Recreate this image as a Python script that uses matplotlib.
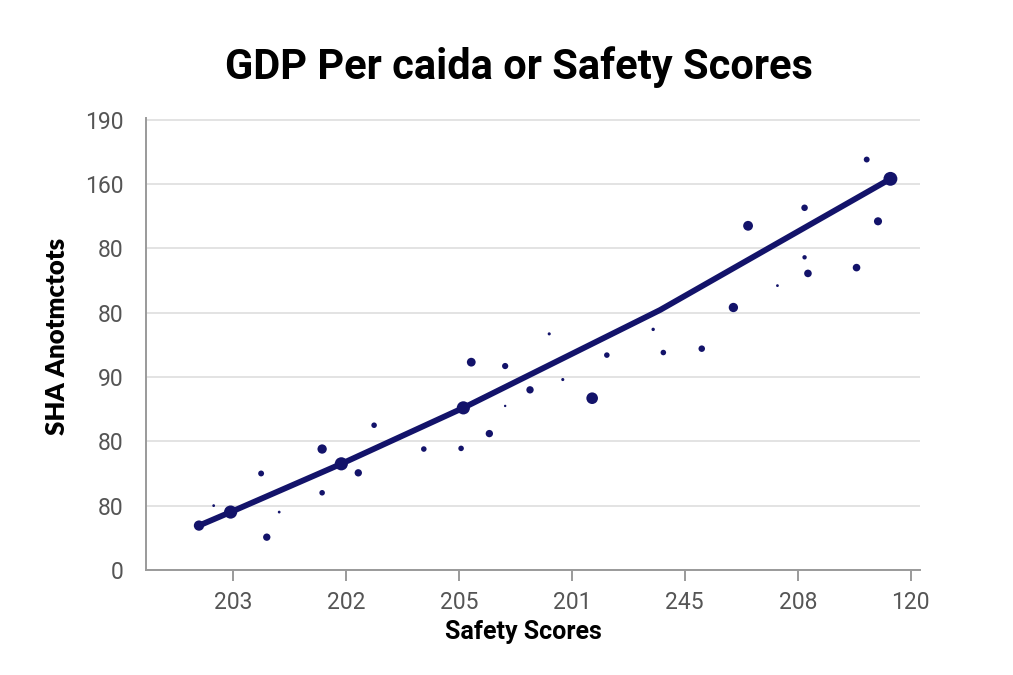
import matplotlib.pyplot as plt

# tick labels as printed on the chart (positions are just their index)
x_labels = ["203", "202", "205", "201", "245", "208", "120"]
y_labels = ["0", "80", "80", "90", "80", "80", "160", "190"]

# trend line (x, y in tick-index units); big markers on some vertices
trend_x = [0.70, 0.98, 1.96, 3.04, 4.78, 6.82]
trend_y = [0.69, 0.90, 1.65, 2.52, 4.04, 6.08]
trend_s = [55, 90, 90, 90, 0, 100]

# scattered observations and their marker sizes
pts_x = [0.83, 1.25, 1.41, 1.30, 1.79, 1.79, 2.11, 2.25, 2.69, 3.02,
         3.11, 3.27, 3.41, 3.41, 3.63, 3.80, 3.92, 4.18, 4.31, 4.72,
         4.81, 5.15, 5.43, 5.56, 5.82, 6.06, 6.06, 6.09, 6.52, 6.61,
         6.71]
pts_y = [1.00, 1.50, 0.90, 0.51, 1.88, 1.20, 1.51, 2.25, 1.88, 1.89,
         3.23, 2.12, 3.17, 2.55, 2.80, 3.67, 2.96, 2.67, 3.34, 3.74,
         3.38, 3.44, 4.08, 5.35, 4.42, 5.63, 4.86, 4.61, 4.70, 6.38,
         5.42]
pts_s = [4, 18, 4, 28, 45, 16, 28, 16, 16, 16,
         40, 28, 20, 3, 28, 5, 5, 70, 16, 6,
         16, 22, 45, 50, 4, 22, 10, 30, 30, 18,
         34]

NAVY = "#13136a"
GRID = "#e0e0e0"
TXT = "#555555"

fig = plt.figure(figsize=(10.13, 6.75), dpi=100)
ax = fig.add_axes([0.144, 0.1556, 0.764, 0.670])

ax.plot(trend_x, trend_y, color=NAVY, lw=4.2, solid_capstyle="round",
        solid_joinstyle="round", zorder=3)
ax.scatter(trend_x, trend_y, s=trend_s, color=NAVY, zorder=4, linewidths=0)
ax.scatter(pts_x, pts_y, s=pts_s, color=NAVY, zorder=4, linewidths=0)

ax.set_xlim(0.23, 7.08)
ax.set_ylim(0, 7.03)
ax.set_xticks(range(1, 8))
ax.set_xticklabels(x_labels)
ax.set_yticks(range(8))
ax.set_yticklabels(y_labels)

ax.grid(axis="y", color=GRID, lw=1.3)
ax.set_axisbelow(True)
for side in ("top", "right"):
    ax.spines[side].set_visible(False)
for side in ("left", "bottom"):
    ax.spines[side].set_color("#9a9a9a")
    ax.spines[side].set_linewidth(1.4)

ax.tick_params(axis="x", length=8, width=1.4, color="#9a9a9a", pad=7,
               labelsize=16.5, labelcolor=TXT)
ax.tick_params(axis="y", length=0, pad=16, labelsize=16.5, labelcolor=TXT)
for lab in ax.get_xticklabels() + ax.get_yticklabels():
    lab.set_family("Roboto")

ax.set_xlabel("Safety Scores", family="Roboto", fontsize=18, fontweight="bold",
              va="center")
ax.xaxis.set_label_coords(0.488, -0.138)
ax.set_ylabel("SHA Anotmctots", family="Lato", fontsize=18.5, fontweight="heavy",
              va="center")
ax.yaxis.set_label_coords(-0.115, 0.517)
fig.text(0.512, 0.90, "GDP Per caida or Safety Scores", family="Roboto",
         fontsize=30, fontweight="bold", ha="center", va="center")

fig.savefig("out.png", dpi=100, facecolor="white")
